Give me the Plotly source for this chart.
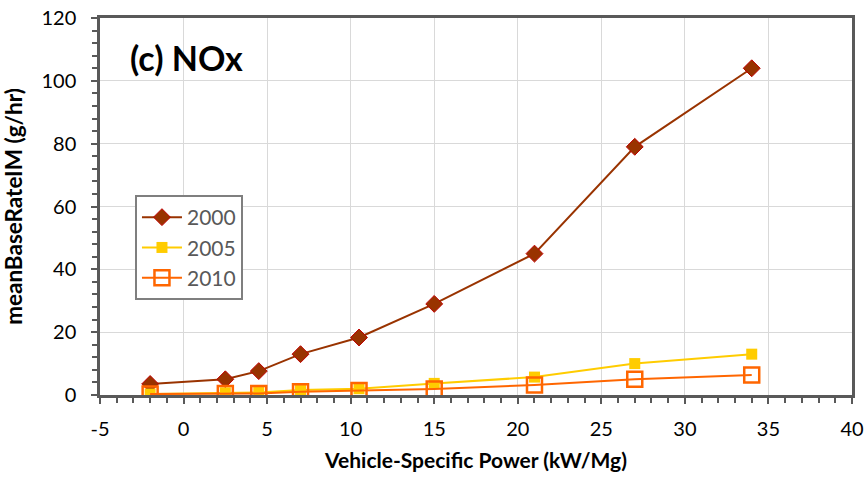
import plotly.graph_objects as go

vsp = [-2, 2.5, 4.5, 7, 10.5, 15, 21, 27, 34]
nox_2000 = [3.5, 5.0, 7.6, 13.0, 18.3, 29.0, 45.0, 79.0, 104.0]
nox_2005 = [0.3, 0.7, 0.8, 1.6, 2.0, 3.7, 5.7, 10.0, 13.0]
nox_2010 = [0.3, 0.5, 0.5, 1.0, 1.4, 1.9, 3.2, 5.0, 6.4]

x_tickvals = [-5, 0, 5, 10, 15, 20, 25, 30, 35, 40]
x_ticktext = ["-5", "0", "5", "10", "15", "20", "25", "30", "35", "40"]

FONT = "Lato"

fig = go.Figure()
fig.add_trace(go.Scatter(x=vsp, y=nox_2000, name="2000", mode="lines+markers",
                         line=dict(color="#993300", width=2),
                         marker=dict(symbol="diamond", size=13, color="#993300",
                                     line=dict(color="#C00000", width=1))))
fig.add_trace(go.Scatter(x=vsp, y=nox_2005, name="2005", mode="lines+markers",
                         line=dict(color="#FFCC00", width=2),
                         marker=dict(symbol="square", size=11, color="#FFCC00",
                                     line=dict(color="#FFCC00", width=0))))
fig.add_trace(go.Scatter(x=vsp, y=nox_2010, name="2010", mode="lines+markers",
                         line=dict(color="#FF6600", width=2),
                         marker=dict(symbol="square-open", size=15, color="#FF6600",
                                     line=dict(color="#FF6600", width=2.5))))

fig.update_layout(
    width=868, height=480,
    margin=dict(l=100, r=16, t=18, b=85),
    paper_bgcolor="white", plot_bgcolor="white",
    font=dict(family=FONT, size=20, color="#000000"),
    showlegend=True,
    legend=dict(x=0.0465, y=0.5305, xanchor="left", yanchor="top",
                bgcolor="white", bordercolor="#7f7f7f", borderwidth=2,
                font=dict(family=FONT, size=21, color="#595959"),
                tracegroupgap=0, itemwidth=40),
    annotations=[dict(text="<b>(c) NOx</b>", x=0.037, y=0.894, xref="paper", yref="paper",
                      xanchor="left", yanchor="middle", showarrow=False,
                      font=dict(family=FONT, size=34, color="#000000"))],
)

fig.update_xaxes(range=[-5, 40], tickmode="array", tickvals=x_tickvals, ticktext=x_ticktext,
                 automargin=False, ticklabelstandoff=8,
                 showgrid=True, gridcolor="#d9d9d9", gridwidth=1,
                 showline=True, linecolor="#595959", linewidth=2.5, mirror=True,
                 ticks="outside", ticklen=6, tickwidth=2, tickcolor="#595959",
                 minor=dict(dtick=1, tick0=0, ticks="outside", ticklen=5, tickcolor="#595959", tickwidth=1.5, showgrid=False),
                 zeroline=False,
                 tickfont=dict(family=FONT, size=20, color="#000000"),
                 title=dict(text="<b>Vehicle-Specific Power (kW/Mg)</b>",
                            font=dict(family=FONT, size=21, color="#000000")))
fig.update_yaxes(range=[0, 120], dtick=20,
                 automargin=False, ticklabelstandoff=11,
                 showgrid=True, gridcolor="#d9d9d9", gridwidth=1,
                 showline=True, linecolor="#595959", linewidth=2.5, mirror=True,
                 ticks="outside", ticklen=6, tickwidth=2, tickcolor="#595959",
                 minor=dict(dtick=4, ticks="outside", ticklen=5, tickcolor="#595959", tickwidth=1.5, showgrid=False),
                 zeroline=False,
                 tickfont=dict(family=FONT, size=20, color="#000000"),
                 title=dict(text="<b>meanBaseRateIM (g/hr)</b>",
                            font=dict(family=FONT, size=22.5, color="#000000")))

fig.write_html("out.html", config={"displayModeBar": False},
               post_script="document.body.style.margin='0px';")
